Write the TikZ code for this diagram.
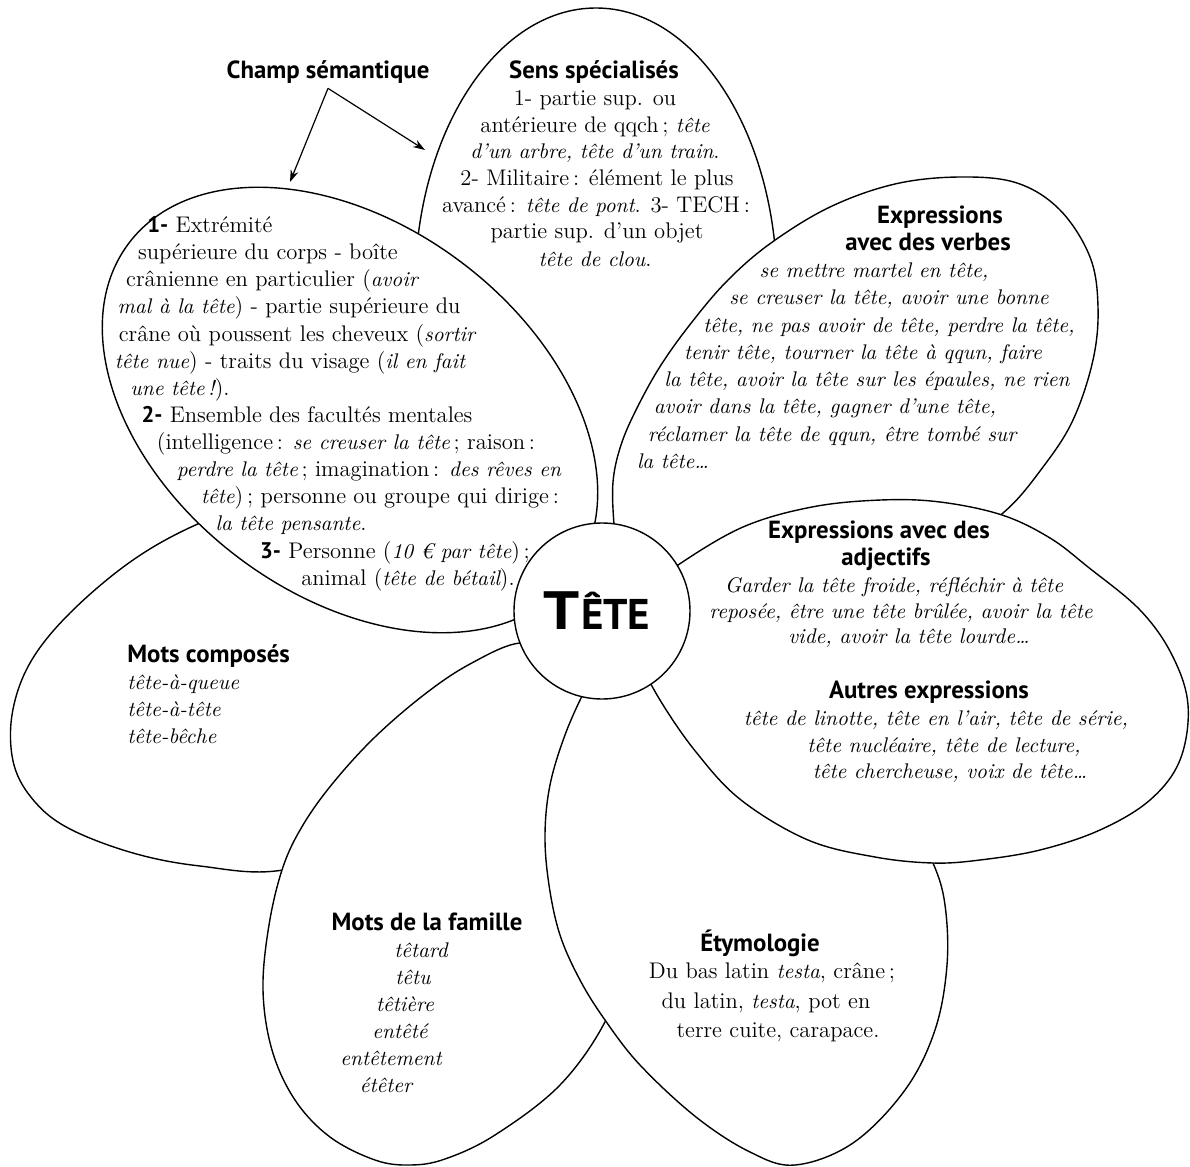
\documentclass[tikz,border=0pt]{standalone}
\usepackage{fontspec}
\newfontfamily\ptsans{PT Sans}
\usetikzlibrary{arrows.meta}
\newcommand\hdfont{\ptsans\bfseries\fontsize{12.4}{14}\selectfont}
\newcommand\exfont{\fontsize{10.6}{13}\selectfont\itshape}
\newcommand\ex[1]{{\exfont #1}}
\newcommand\nb[1]{{\ptsans\bfseries #1}}
\begin{document}
\begin{tikzpicture}[x=0.5pt,y=-0.5pt,
  petal/.style={draw, fill=white, line width=0.7pt},
  txt/.style={inner sep=0pt, anchor=base, font=\fontsize{11.3}{13}\selectfont},
  exl/.style={txt, font=\exfont},
  hd/.style={txt, font=\hdfont},
  arr/.style={line width=0.6pt, -{Stealth[length=6pt,width=4pt]}}]
\useasboundingbox (0,0) rectangle (1190,1167);

% petals (back to front)
\draw[petal] (596,288) ellipse [x radius=181, y radius=280];
\draw[petal] plot[smooth cycle, tension=0.6] coordinates {(200,523) (133,560) (70,613) (30,663) (12,715) (14,765) (35,802) (70,829) (133,853) (200,866) (283,870) (390,835) (480,760) (540,660) (500,590) (400,520) (280,495)};
\draw[petal] plot[smooth cycle, tension=0.6] coordinates {(520,643) (470,664) (425,694) (375,737) (333,783) (303,825) (283,867) (269,925) (263,990) (272,1050) (295,1100) (330,1137) (375,1160) (410,1165) (445,1159) (495,1135) (560,1085) (606,1020) (630,950) (632,850) (615,760) (590,690) (560,655)};
\draw[petal] plot[smooth cycle, tension=0.6] coordinates {(605,655) (585,690) (565,735) (550,785) (545,835) (549,885) (560,935) (580,980) (605,1020) (640,1065) (696,1117) (750,1152) (795,1165) (853,1143) (905,1090) (935,1030) (947,965) (945,905) (933,863) (905,810) (840,755) (740,710) (640,672)};
\draw[petal] plot[smooth cycle, tension=0.6] coordinates {(618,560) (614,525) (613,482) (621,445) (637,408) (661,365) (692,322) (728,280) (771,243) (830,207) (895,184) (960,177) (1017,183) (1060,210) (1090,257) (1098,307) (1093,360) (1073,420) (1043,467) (1003,513) (940,555) (850,590) (750,605) (660,600)};
\draw[petal] plot[smooth cycle, tension=0.6] coordinates {(632,625) (648,590) (678,565) (743,527) (812,507) (881,500) (940,502) (1002,515) (1050,538) (1088,567) (1140,610) (1172,655) (1188,705) (1180,760) (1150,800) (1100,830) (1040,850) (980,860) (933,863) (875,857) (808,840) (741,800) (696,752) (660,700) (640,660)};
\draw[petal, rotate around={-37:(350,410)}] (350,410) ellipse [x radius=277, y radius=185];

% centre
\node[circle, draw, fill=white, line width=0.7pt, minimum size=88pt, inner sep=0pt,
  label={[xshift=-2.5pt, inner sep=0pt]center:{\ptsans\bfseries\fontsize{27}{27}\selectfont\scalebox{1.18}[1]{T}\kern0.6pt\fontsize{21.5}{21.5}\selectfont ÊTE}}] (tete) at (602,611) {};

% champ sémantique
\node[hd] (champ) at (328,78) {Champ sémantique};
\coordinate (apex) at ([yshift=-2.5pt]champ.south);
\coordinate (tipL) at (290,182);
\coordinate (tipR) at (425,150);
\draw[arr] (apex) -- (tipL);
\draw[arr] (apex) -- (tipR);

% top petal
\node[hd] (t0) at (594,78) {Sens spécialisés};
\node[txt] (t1) at (595,105) {1- partie sup. ou};
\node[txt] (t2) at (595,132) {antérieure de qqch\,; \ex{tête}};
\node[txt] (t3) at (595,158) {\ex{d'un arbre, tête d'un train}.};
\node[txt] (t4) at (597,185) {2- Militaire\,: élément le plus};
\node[txt] (t5) at (596,212) {avancé\,: \ex{tête de pont}. 3- TECH\,:};
\node[txt] (t6) at (597,238) {partie sup. d'un objet};
\node[txt] (t7) at (595,266) {\ex{tête de clou}.};

% upper-left petal
\node[txt] (u1) at (210,232) {\nb{1-} Extrémité};
\node[txt] (u2) at (268,259) {supérieure du corps - boîte};
\node[txt] (u3) at (272,286) {crânienne en particulier (\ex{avoir}};
\node[txt] (u4) at (289,313) {\ex{mal à la tête}) - partie supérieure du};
\node[txt] (u5) at (297,341) {crâne où poussent les cheveux (\ex{sortir}};
\node[txt] (u6) at (290,368) {\ex{tête nue}) - traits du visage (\ex{il en fait}};
\node[txt] (u7) at (180,395) {\ex{une tête\,!}).};
\node[txt] (u8) at (307,422) {\nb{2-} Ensemble des facultés mentales};
\node[txt] (u9) at (346,449) {(intelligence\,: \ex{se creuser la tête}\,; raison\,:};
\node[txt] (u10) at (369,476) {\ex{perdre la tête}\,; imagination\,: \ex{des rêves en}};
\node[txt] (u11) at (380,503) {\ex{tête})\,; personne ou groupe qui dirige\,:};
\node[txt] (u12) at (291,530) {\ex{la tête pensante}.};
\node[txt] (u13) at (395,558) {\nb{3-} Personne (\ex{10 € par tête})\,;};
\node[txt] (u14) at (408,585) {animal (\ex{tête de bétail}).};

% upper-right petal
\node[hd] (r0) at (940,223) {Expressions};
\node[hd] (r00) at (928,250) {avec des verbes};
\node[exl] (r1) at (874,277) {se mettre martel en tête,};
\node[exl] (r2) at (889,304) {se creuser la tête, avoir une bonne};
\node[exl] (r3) at (889,332) {tête, ne pas avoir de tête, perdre la tête,};
\node[exl] (r4) at (863,359) {tenir tête, tourner la tête à qqun, faire};
\node[exl] (r5) at (867,386) {la tête, avoir la tête sur les épaules, ne rien};
\node[exl] (r6) at (825,413) {avoir dans la tête, gagner d'une tête,};
\node[exl] (r7) at (832,441) {réclamer la tête de qqun, être tombé sur};
\node[exl] (r8) at (673,468) {la tête…};

% right petal
\node[hd] (a0) at (879,538) {Expressions avec des};
\node[hd] (a00) at (886,565) {adjectifs};
\node[exl] (a1) at (894,592) {Garder la tête froide, réfléchir à tête};
\node[exl] (a2) at (901,618) {reposée, être une tête brûlée, avoir la tête};
\node[exl] (a3) at (909,643) {vide, avoir la tête lourde…};
\node[hd] (a4) at (929,698) {Autres expressions};
\node[exl] (a5) at (936,725) {tête de linotte, tête en l'air, tête de série,};
\node[exl] (a6) at (944,752) {tête nucléaire, tête de lecture,};
\node[exl] (a7) at (950,778) {tête chercheuse, voix de tête…};

% left petal
\node[hd, anchor=base west] (m0) at (127,662) {Mots composés};
\node[exl, anchor=base west] (m1) at (127,689) {tête-à-queue};
\node[exl, anchor=base west] (m2) at (127,716) {tête-à-tête};
\node[exl, anchor=base west] (m3) at (127,743) {tête-bêche};

% lower-left petal
\node[hd] (f0) at (427,930) {Mots de la famille};
\node[exl] (f1) at (421,957) {têtard};
\node[exl] (f2) at (413,984) {têtu};
\node[exl] (f3) at (405,1011) {têtière};
\node[exl] (f4) at (400,1038) {entêté};
\node[exl] (f5) at (391,1065) {entêtement};
\node[exl] (f6) at (386,1092) {étêter};

% lower-right petal
\node[hd] (e0) at (760,951) {Étymologie};
\node[txt] (e1) at (772,978) {Du bas latin \ex{testa}, crâne\,;};
\node[txt] (e2) at (766,1008) {du latin, \ex{testa}, pot en};
\node[txt] (e3) at (778,1037) {terre cuite, carapace.};
\end{tikzpicture}
\end{document}
